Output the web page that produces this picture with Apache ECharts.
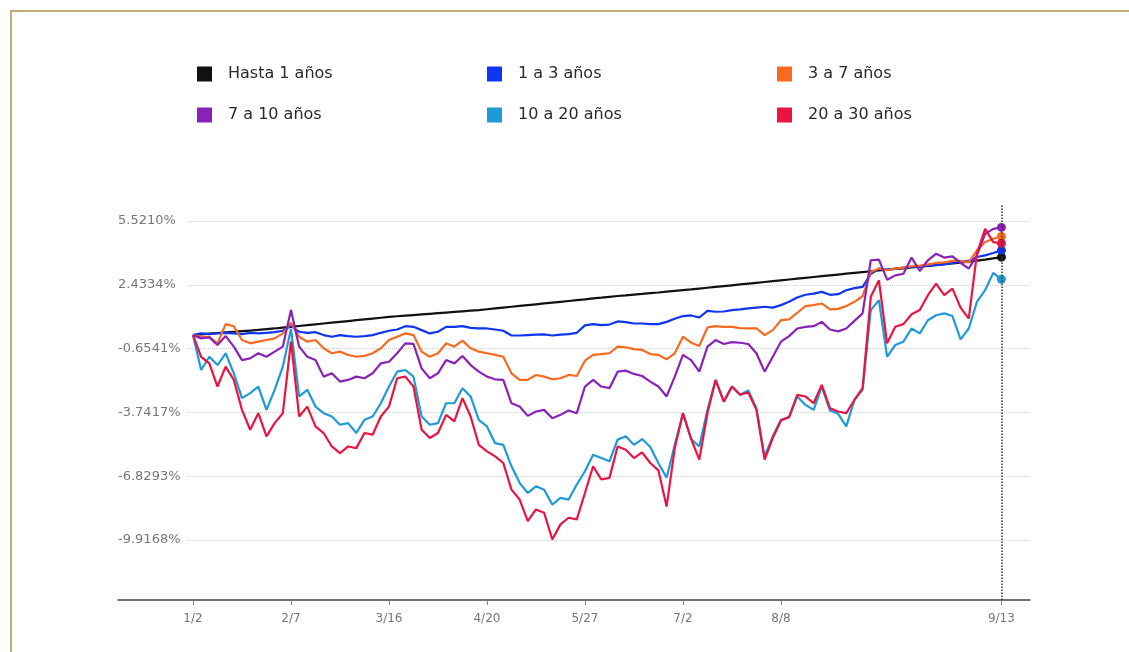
<!DOCTYPE html>
<html><head><meta charset="utf-8">
<script src="https://cdn.jsdelivr.net/npm/echarts@6/dist/echarts.min.js"></script>
<style>
html,body{margin:0;padding:0;background:#fff;overflow:hidden;}
#frame{position:absolute;left:10px;top:10px;width:1140px;height:660px;border-left:2px solid #bfae6e;border-top:2px solid #bfae6e;box-sizing:border-box;}
#chart{position:absolute;left:0;top:0;width:1129px;height:652px;}
</style></head><body>
<div id="frame"></div>
<div id="chart"></div>
<script>
const seriesNames = ['Hasta 1 años','1 a 3 años','3 a 7 años','7 a 10 años','10 a 20 años','20 a 30 años'];
const xLabels = ['1/2','2/7','3/16','4/20','5/27','7/2','8/8','9/13'];
const xLabelIdx = [0,12,24,36,48,60,72,99];
const yTicks = [5.5210, 2.4334, -0.6541, -3.7417, -6.8293, -9.9168];

const hasta1 = [0.00,0.03,0.07,0.10,0.13,0.16,0.19,0.22,0.25,0.29,
 0.32,0.36,0.40,0.44,0.48,0.52,0.56,0.60,0.64,0.68,
 0.72,0.76,0.80,0.84,0.88,0.91,0.94,0.97,1.00,1.03,
 1.06,1.09,1.12,1.15,1.18,1.21,1.25,1.29,1.33,1.37,
 1.41,1.45,1.49,1.53,1.57,1.61,1.65,1.69,1.73,1.78,
 1.81,1.85,1.89,1.92,1.96,1.99,2.03,2.06,2.10,2.14,
 2.18,2.21,2.25,2.29,2.33,2.37,2.41,2.45,2.49,2.53,
 2.57,2.61,2.65,2.69,2.73,2.77,2.81,2.85,2.89,2.93,
 2.97,3.01,3.05,3.09,3.13,3.17,3.20,3.23,3.27,3.31,
 3.35,3.39,3.43,3.47,3.51,3.55,3.60,3.65,3.71,3.77];
const a1_3 = [0.00,0.08,0.05,0.08,0.11,0.08,0.05,0.11,0.08,0.11,
 0.14,0.21,0.45,0.16,0.11,0.14,0.00,-0.08,0.00,-0.05,
 -0.08,-0.05,0.00,0.11,0.21,0.27,0.43,0.40,0.24,0.08,
 0.16,0.40,0.40,0.43,0.35,0.32,0.32,0.27,0.21,-0.02,
 -0.02,0.00,0.02,0.03,-0.02,0.02,0.05,0.11,0.47,0.53,
 0.48,0.51,0.66,0.63,0.56,0.56,0.53,0.53,0.64,0.79,
 0.92,0.95,0.85,1.17,1.13,1.14,1.21,1.24,1.29,1.33,
 1.37,1.33,1.45,1.61,1.82,1.95,2.01,2.09,1.95,1.98,
 2.17,2.27,2.33,2.95,3.22,3.17,3.22,3.26,3.30,3.33,
 3.36,3.39,3.42,3.49,3.54,3.59,3.78,3.86,3.97,4.10];
const a3_7 = [0.00,-0.08,-0.08,-0.40,0.53,0.43,-0.24,-0.40,-0.32,-0.24,
 -0.16,0.08,0.60,-0.08,-0.32,-0.24,-0.64,-0.88,-0.80,-0.96,
 -1.05,-1.01,-0.88,-0.64,-0.24,-0.08,0.08,0.00,-0.80,-1.05,
 -0.88,-0.40,-0.56,-0.27,-0.64,-0.80,-0.88,-0.96,-1.05,-1.85,
 -2.17,-2.17,-1.93,-2.01,-2.14,-2.09,-1.93,-1.98,-1.24,-0.96,
 -0.92,-0.88,-0.56,-0.59,-0.68,-0.72,-0.92,-0.96,-1.17,-0.88,
 -0.08,-0.37,-0.53,0.37,0.43,0.40,0.40,0.34,0.32,0.32,
 0.00,0.24,0.72,0.76,1.08,1.40,1.45,1.53,1.24,1.27,
 1.40,1.61,1.88,3.05,3.22,3.14,3.22,3.26,3.33,3.36,
 3.42,3.49,3.52,3.59,3.59,3.52,4.10,4.50,4.66,4.77];
const a7_10 = [0.00,-0.16,-0.11,-0.48,-0.05,-0.56,-1.21,-1.13,-0.88,-1.05,
 -0.80,-0.56,1.21,-0.56,-1.05,-1.21,-2.01,-1.85,-2.25,-2.17,
 -2.01,-2.09,-1.85,-1.37,-1.29,-0.88,-0.40,-0.43,-1.61,-2.09,
 -1.85,-1.21,-1.37,-1.01,-1.45,-1.77,-2.01,-2.14,-2.17,-3.30,
 -3.46,-3.91,-3.70,-3.62,-4.02,-3.86,-3.65,-3.78,-2.49,-2.17,
 -2.49,-2.57,-1.77,-1.72,-1.88,-1.98,-2.25,-2.49,-2.97,-2.01,
 -0.96,-1.21,-1.77,-0.56,-0.24,-0.43,-0.34,-0.37,-0.43,-0.88,
 -1.77,-1.05,-0.32,-0.05,0.32,0.40,0.43,0.64,0.27,0.18,
 0.32,0.69,1.05,3.62,3.65,2.68,2.89,2.97,3.75,3.10,
 3.62,3.94,3.75,3.81,3.49,3.22,3.86,4.90,5.14,5.21];
const a10_20 = [0.00,-1.69,-1.05,-1.45,-0.88,-1.85,-3.05,-2.81,-2.49,-3.62,
 -2.65,-1.53,0.30,-2.97,-2.65,-3.46,-3.78,-3.94,-4.34,-4.26,
 -4.74,-4.10,-3.94,-3.30,-2.49,-1.77,-1.69,-2.01,-3.94,-4.34,
 -4.26,-3.30,-3.30,-2.57,-2.97,-4.10,-4.42,-5.23,-5.31,-6.35,
 -7.15,-7.64,-7.32,-7.48,-8.20,-7.88,-7.96,-7.23,-6.59,-5.79,
 -5.95,-6.11,-5.06,-4.90,-5.31,-5.03,-5.42,-6.20,-6.90,-5.31,
 -3.78,-5.03,-5.39,-3.62,-2.17,-3.22,-2.49,-2.89,-2.68,-3.54,
 -5.87,-4.90,-4.10,-3.97,-2.97,-3.38,-3.62,-2.49,-3.65,-3.81,
 -4.42,-3.14,-2.65,1.21,1.69,-1.05,-0.48,-0.32,0.32,0.08,
 0.72,0.96,1.05,0.92,-0.21,0.32,1.61,2.17,3.01,2.70];
const a20_30 = [0.00,-1.05,-1.37,-2.49,-1.53,-2.17,-3.62,-4.58,-3.78,-4.90,
 -4.26,-3.78,-0.30,-3.94,-3.46,-4.42,-4.74,-5.39,-5.71,-5.39,
 -5.47,-4.74,-4.82,-3.94,-3.46,-2.09,-2.01,-2.49,-4.58,-4.98,
 -4.74,-3.86,-4.18,-3.05,-3.94,-5.31,-5.63,-5.87,-6.19,-7.48,
 -7.96,-9.00,-8.44,-8.60,-9.89,-9.16,-8.84,-8.92,-7.64,-6.35,
 -6.99,-6.91,-5.39,-5.55,-5.95,-5.68,-6.19,-6.55,-8.30,-5.47,
 -3.78,-5.03,-6.03,-3.78,-2.17,-3.22,-2.49,-2.89,-2.78,-3.62,
 -6.03,-4.98,-4.13,-3.97,-2.89,-2.97,-3.30,-2.41,-3.54,-3.70,
 -3.78,-3.14,-2.57,1.85,2.65,-0.40,0.40,0.53,1.01,1.21,
 1.93,2.49,1.93,2.25,1.33,0.80,3.94,5.14,4.50,4.44];

const seriesValues = [hasta1, a1_3, a3_7, a7_10, a10_20, a20_30];
const colors = ['#111111','#0f35f0','#f96a1e','#8a22b8','#1f9ad8','#ea1443'];
const FONT = 'DejaVu Sans';
const lastIdx = hasta1.length - 1;

const chart = echarts.init(document.getElementById('chart'), null, {renderer:'canvas'});

const legendLeft = [197, 487, 777];
const legendTop = [66, 107];

const series = seriesValues.map((arr, k) => ({
  name: seriesNames[k],
  type: 'line',
  xAxisIndex: 0, yAxisIndex: 0,
  symbol: 'none',
  showAllSymbol: true,
  lineStyle: {width: 2.2, color: colors[k]},
  itemStyle: {color: colors[k]},
  emphasis: {disabled: true},
  data: arr.map((v, i) => i === lastIdx ? {value: [i, v], symbol: 'circle', symbolSize: 9} : [i, v]),
  markLine: k === 0 ? {
    silent: true, symbol: 'none', label: {show: false},
    lineStyle: {color: '#333', type: 'dotted', width: 1.5},
    data: [{xAxis: lastIdx}]
  } : undefined,
  z: 2
}));

chart.setOption({
  animation: false,
  color: colors,
  legend: seriesNames.map((n, k) => ({
    data: [n],
    left: legendLeft[k % 3],
    top: legendTop[Math.floor(k / 3)],
    padding: 0,
    icon: 'rect',
    itemWidth: 15, itemHeight: 15,
    selectedMode: false,
    textStyle: {fontSize: 16, color: '#2a2a2a', fontFamily: FONT, padding: [0, 0, 0, 11]}
  })),
  grid: [
    {left: 188, right: 99, top: 205, bottom: 52},
    {left: 118, right: 99, top: 205, bottom: 52}
  ],
  xAxis: [
    {
      type: 'value', gridIndex: 0, min: -0.61, max: 102.5,
      axisLine: {show: false, onZero: false},
      splitLine: {show: false},
      axisTick: {show: true, customValues: xLabelIdx, length: 5, lineStyle: {color: '#888'}},
      axisLabel: {customValues: xLabelIdx, formatter: v => xLabels[xLabelIdx.indexOf(Math.round(v))],
        color: '#777', fontSize: 12, fontFamily: FONT, margin: 13}
    },
    {
      type: 'value', gridIndex: 1, min: 0, max: 1,
      axisLine: {show: true, onZero: false, lineStyle: {color: '#444', width: 1.5}},
      axisTick: {show: false}, axisLabel: {show: false}, splitLine: {show: false}
    }
  ],
  yAxis: [
    {
      type: 'value', gridIndex: 0, min: -12.82, max: 6.295,
      axisLine: {show: false},
      axisTick: {show: false, customValues: yTicks},
      axisLabel: {customValues: yTicks, formatter: v => v.toFixed(4) + '%', align: 'left', margin: 70,
        color: '#777', fontSize: 13, fontFamily: FONT},
      splitLine: {show: true, lineStyle: {color: '#cfcfcf', type: 'dotted', width: 1}}
    },
    {type: 'value', gridIndex: 1, min: 0, max: 1, show: false}
  ],
  series: series
});
</script></body></html>
